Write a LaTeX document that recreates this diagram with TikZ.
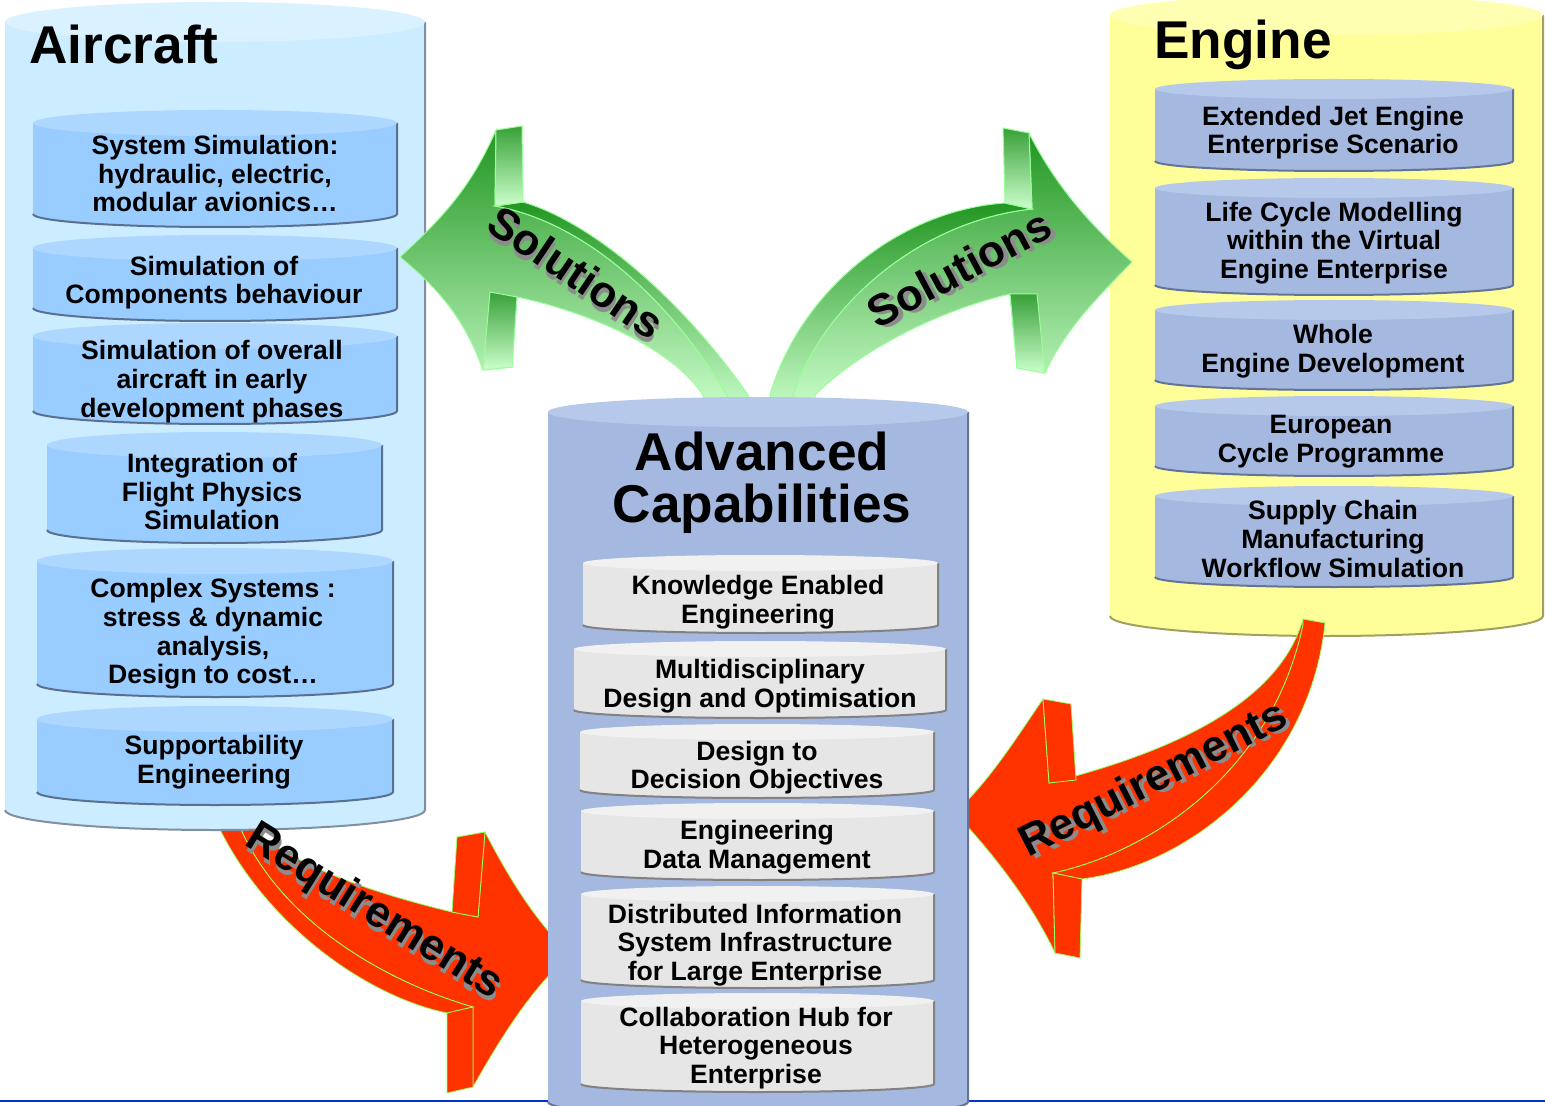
\documentclass[tikz,border=0pt]{standalone}
\usepackage{fontspec}
\setmainfont{Liberation Sans}
\usepackage{tikz}
\usetikzlibrary{positioning}

\definecolor{acbody}{RGB}{204,236,255}
\definecolor{actop}{RGB}{218,242,255}
\definecolor{acedge}{RGB}{128,144,160}
\definecolor{aibody}{RGB}{153,204,255}
\definecolor{aitop}{RGB}{174,215,255}
\definecolor{aiedge}{RGB}{90,112,144}
\definecolor{enbody}{RGB}{255,255,153}
\definecolor{entop}{RGB}{255,255,178}
\definecolor{enedge}{RGB}{160,160,100}
\definecolor{blbody}{RGB}{164,184,224}
\definecolor{bltop}{RGB}{183,201,234}
\definecolor{bledge}{RGB}{100,116,150}
\definecolor{grbody}{RGB}{230,230,230}
\definecolor{grtop}{RGB}{241,241,241}
\definecolor{gredge}{RGB}{130,130,130}
\definecolor{soldark}{RGB}{34,150,34}
\definecolor{sollight}{RGB}{204,255,204}
\definecolor{solline}{RGB}{153,255,153}
\definecolor{reqred}{RGB}{255,51,0}
\definecolor{reqline}{RGB}{153,255,102}
\definecolor{baseblue}{RGB}{0,51,204}

% a drum: left, right, top, bottom, half height of the ends, colour set
\newcommand{\drum}[6]{%
  \pgfmathsetmacro{\drumrx}{(#2-#1)/2}
  \fill[#6body] (#1,#3+#5) -- (#1,#4-#5) arc[start angle=180,end angle=0,x radius=\drumrx,y radius=#5] -- (#2,#3+#5) -- cycle;
  \draw[#6edge,line width=1pt] (#1,#4-#5) arc[start angle=180,end angle=0,x radius=\drumrx,y radius=#5] -- (#2,#3+#5);
  \fill[#6top] ({(#1+#2)/2},#3+#5) ellipse[x radius=\drumrx,y radius=#5];
}
% text with a grey drop shadow
\newcommand{\shadowed}[1]{\rlap{\kern1.6pt\raisebox{-2pt}{\textcolor{black!45}{#1}}}#1}

\tikzset{
  sub/.style={align=center,inner sep=0pt,font=\fontsize{13.3}{14.35}\selectfont\bfseries},
  title/.style={align=center,inner sep=0pt,font=\fontsize{26.6}{25.9}\selectfont\bfseries},
  arrowtag/.style={inner sep=0pt,font=\fontsize{22}{24}\selectfont\bfseries},
  solface/.style={top color=soldark,bottom color=sollight,draw=solline,line width=0.5pt},
  solblock/.style={top color=soldark!90,bottom color=sollight,draw=solline,line width=0.5pt},
  reqface/.style={fill=reqred,draw=reqline,line width=0.4pt}
}

\begin{document}
\begin{tikzpicture}[x=0.5pt,y=-0.5pt]
    \useasboundingbox (0,0) rectangle (1545,1106);
    \draw[baseblue,line width=1.2pt] (0,1101) -- (1545,1101);

    % requirements from the aircraft
    \path[reqface] (240,812) .. controls (262,850) and (340,885) .. (452,912) -- (478,917) -- (485,832) .. controls (505,870) and (530,915) .. (570,955) .. controls (535,985) and (505,1030) .. (473,1087) -- (473,1007) .. controls (380,980) and (270,915) .. (234,812) -- cycle;
    \path[reqface] (234,812) .. controls (270,915) and (380,980) .. (473,1007) -- (447,1013) .. controls (360,995) and (255,915) .. (212,812) -- cycle;
    \path[reqface] (452,912) -- (457,837) -- (485,832) -- (478,917) -- cycle;
    \path[reqface] (447,1013) -- (473,1007) -- (473,1087) -- (447,1093) -- cycle;

    % aircraft
    \drum{5}{425}{2}{830}{20}{ac}
    \drum{33}{397}{110}{227}{13}{ai}
    \drum{33}{397}{235}{321}{13}{ai}
    \drum{33}{397}{323}{424}{13}{ai}
    \drum{47}{382}{432}{543}{13}{ai}
    \drum{37}{393}{548}{697}{13}{ai}
    \drum{37}{393}{706}{805}{13}{ai}

    % engine
    \drum{1110}{1543}{-5}{636}{20}{en}
    \drum{1155}{1513}{79}{171}{10}{bl}
    \drum{1155}{1513}{178}{295}{10}{bl}
    \drum{1155}{1513}{300}{390}{10}{bl}
    \drum{1155}{1513}{396}{476}{10}{bl}
    \drum{1155}{1513}{486}{587}{10}{bl}

    % solutions to the aircraft
    \path[solface] (495,206) -- (496,130) .. controls (470,190) and (440,220) .. (400,257) .. controls (440,290) and (465,320) .. (483,370) -- (512,367) -- (517,297) .. controls (580,310) and (670,345) .. (703,395) -- (703,415) -- (727,415) -- (727,395) .. controls (670,300) and (585,222) .. (495,206) -- cycle;
    \path[solface] (495,206) -- (523,202) .. controls (600,225) and (690,310) .. (748,395) -- (748,415) -- (727,415) -- (727,395) .. controls (670,300) and (585,222) .. (495,206) -- cycle;
    \path[solblock] (496,130) -- (522,126) -- (523,202) -- (495,206) -- cycle;
    \path[solblock] (490,292) -- (517,297) -- (512,367) -- (483,370) -- cycle;

    % solutions to the engine
    \path[solface] (1032,209) -- (1029,133) .. controls (1055,185) and (1090,225) .. (1132,262) .. controls (1095,300) and (1065,330) .. (1045,373) -- (1017,368) -- (1010,294) .. controls (940,310) and (860,350) .. (815,395) -- (815,415) -- (793,415) -- (793,395) .. controls (825,300) and (925,220) .. (1032,209) -- cycle;
    \path[solface] (1005,203) -- (1032,209) .. controls (925,220) and (825,300) .. (793,395) -- (793,415) -- (770,415) -- (770,395) .. controls (800,290) and (900,210) .. (1005,203) -- cycle;
    \path[solblock] (1003,128) -- (1029,133) -- (1032,209) -- (1005,203) -- cycle;
    \path[solblock] (1010,294) -- (1037,294) -- (1045,373) -- (1017,368) -- cycle;

    % requirements from the engine
    \path[reqface] (1303,619) .. controls (1280,700) and (1180,750) .. (1049,783) -- (1043,699) .. controls (1015,740) and (990,780) .. (955,813) .. controls (990,850) and (1030,900) .. (1055,953) -- (1053,873) .. controls (1140,855) and (1270,780) .. (1303,625) -- cycle;
    \path[reqface] (1303,625) .. controls (1270,780) and (1140,855) .. (1053,873) -- (1082,879) .. controls (1190,865) and (1310,770) .. (1325,623) -- (1303,619) -- cycle;
    \path[reqface] (1043,699) -- (1071,704) -- (1076,780) -- (1049,783) -- cycle;
    \path[reqface] (1053,873) -- (1082,879) -- (1080,958) -- (1055,953) -- cycle;

    % advanced capabilities
    \drum{548}{968}{397}{1117}{15}{bl}
    \drum{583}{938}{555}{633}{8}{gr}
    \drum{574}{946}{641}{718}{8}{gr}
    \drum{580}{934}{724}{798}{8}{gr}
    \drum{581}{934}{803}{880}{8}{gr}
    \drum{581}{934}{886}{988}{8}{gr}
    \drum{581}{934}{993}{1092}{8}{gr}

    \node[title,anchor=west] at (29,44) (aircraft) {Aircraft};
    \node[sub] at (215,173.5) (sysSim) {System Simulation:\\hydraulic, electric,\\modular avionics…};
    \node[sub] at (214,282.5) (compSim) {Simulation of\\Components behaviour};
    \node[sub] at (212,381.5) (overallSim) {Simulation of overall\\aircraft in early\\development phases};
    \node[sub] at (212,491.5) (flightPhys) {Integration of\\Flight Physics\\Simulation};
    \node[sub] at (213,634) (complexSys) {Complex Systems :\\stress \& dynamic\\analysis,\\Design to cost…};
    \node[sub] at (214,762.5) (support) {Supportability\\Engineering};

    \node[title,anchor=west] at (1154,45) (engine) {Engine};
    \node[sub] at (1333,132.5) (jetEngine) {Extended Jet Engine\\Enterprise Scenario};
    \node[sub] at (1334,243) (lifeCycle) {Life Cycle Modelling\\within the Virtual\\Engine Enterprise};
    \node[sub] at (1333,351) (wholeEngine) {Whole\\Engine Development};
    \node[sub] at (1331,441.5) (cycleProg) {European\\Cycle Programme};
    \node[sub] at (1333,539) (supplyChain) {Supply Chain\\Manufacturing\\Workflow Simulation};

    \node[title] at (762,483) (advanced) {Advanced\\Capabilities};
    \node[sub] at (758,602) (knowledge) {Knowledge Enabled\\Engineering};
    \node[sub] at (760,686) (multiDisc) {Multidisciplinary\\Design and Optimisation};
    \node[sub] at (757,767.5) (decision) {Design to\\Decision Objectives};
    \node[sub] at (757,847.5) (dataMgmt) {Engineering\\Data Management};
    \node[sub] at (755,945) (distInfo) {Distributed Information\\System Infrastructure\\for Large Enterprise};
    \node[sub] at (756,1048) (collabHub) {Collaboration Hub for\\Heterogeneous\\Enterprise};

    % arrow labels
    \node[arrowtag,rotate=-34] at (575,274) (solL) {\shadowed{Solutions}};
    \node[arrowtag,rotate=28] at (960,270) (solR) {\shadowed{Solutions}};
    \node[arrowtag,rotate=-32] at (373,914) (reqL) {\shadowed{Requirements}};
    \node[arrowtag,rotate=27] at (1155,783) (reqR) {\shadowed{Requirements}};
\end{tikzpicture}
\end{document}
